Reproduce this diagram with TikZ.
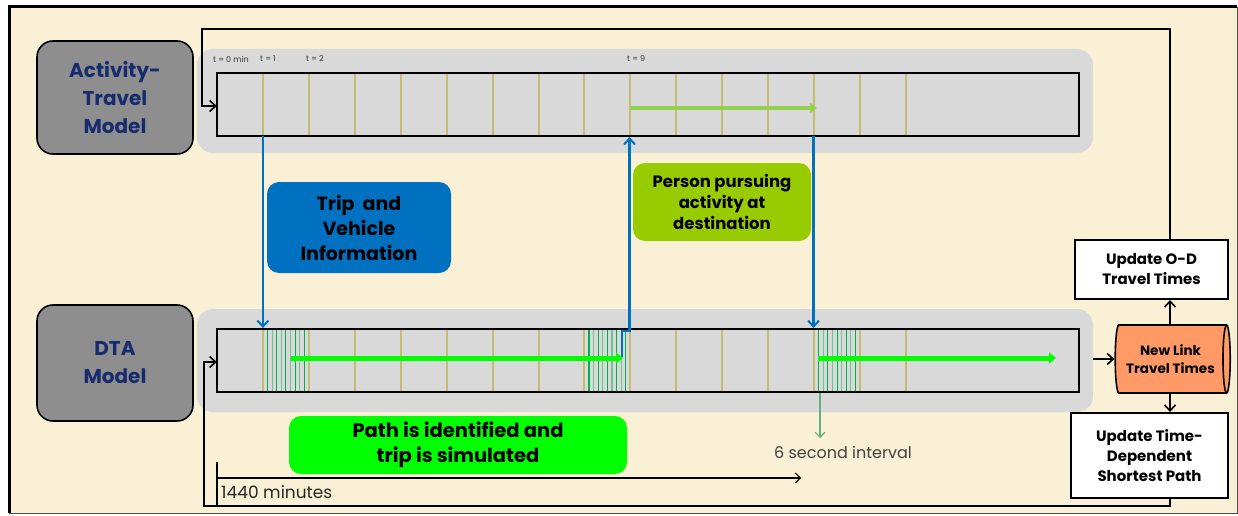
\documentclass[tikz,border=0pt]{standalone}
\usepackage{fontspec}
\setmainfont{Poppins}
\usetikzlibrary{shapes.geometric,arrows.meta,calc}

\definecolor{cream}{HTML}{F9F0D5}
\definecolor{bandgray}{HTML}{D9D9D9}
\definecolor{modelgray}{HTML}{8E8E8E}
\definecolor{navy}{HTML}{172C6E}
\definecolor{olive}{HTML}{C4BC72}
\definecolor{infoblue}{HTML}{0070C0}
\definecolor{actgreen}{HTML}{99CC00}
\definecolor{simgreen}{HTML}{00FF00}
\definecolor{lightgreen}{HTML}{92D050}
\definecolor{tickgreen}{HTML}{00B050}
\definecolor{tickgreenb}{HTML}{6CC58C}
\definecolor{linkorange}{HTML}{FF9966}
\definecolor{textgray}{HTML}{404040}

\tikzset{
  modelbox/.style={draw=black, line width=1.6, fill=modelgray, rounded corners=16,
    minimum width=156, minimum height=113, align=center, text=navy,
    font=\bfseries\fontsize{20}{28}\selectfont},
  bandbox/.style={fill=bandgray, rounded corners=16, minimum width=896, minimum height=104},
  barbox/.style={fill=bandgray, minimum width=862, minimum height=63, inner sep=0},
  notebox/.style={rounded corners=12, align=center, text=black, inner sep=0},
  updbox/.style={draw=black, line width=2, fill=white, align=center,
    font=\bfseries\fontsize{15}{20}\selectfont, inner sep=0},
  olivetick/.style={olive, line width=2},
  densetick/.style={line width=1.1},
  infoarrow/.style={infoblue, line width=2.2, -{Straight Barb[length=6,width=11,line width=2]}},
  looparrow/.style={black, line width=1.7, -{Straight Barb[length=6,width=11,line width=1.6]}},
  tlabel/.style={font=\fontsize{8}{9}\selectfont, text=black!80, inner sep=0, anchor=west},
}

\begin{document}
\begin{tikzpicture}[x=1pt,y=-1pt]
\useasboundingbox (0,0) rectangle (1238,516);
\fill[white] (0,0) rectangle (1238,516);
% frame
\fill[cream] (9,7) rectangle (1237,513);
\draw[line width=1, black!70] (1237,7) -- (1237,513) -- (9,513);
\draw[line width=3] (9,513) -- (9,7) -- (1237,7);

% model boxes
\node[modelbox] (atm) at (115,97.5) {Activity-\\Travel\\Model};
\node[modelbox, minimum height=116] (dta) at (115,363) {DTA\\Model};

% bands and bars
\node[bandbox] (topband) at (645,101) {};
\node[bandbox, minimum height=103] (dtaband) at (645,360.5) {};
\node[barbox] (topbar) at (648,104.5) {};
\node[barbox] (dtabar) at (648,360.5) {};

% one-minute ticks
\foreach \i in {1,...,15}{
  \draw[olivetick] ({217+45.93*\i},73) -- ({217+45.93*\i},136);
  \draw[olivetick] ({217+45.93*\i},329) -- ({217+45.93*\i},392);
}
% six-second ticks
\foreach \c in {262.9,584.4,814.1}{
  \foreach \k in {1,...,9}{
    \pgfmathsetmacro{\xx}{\c+4.6*\k}
    \ifodd\k
      \draw[densetick, tickgreen] (\xx,329) -- (\xx,393);
    \else
      \draw[densetick, tickgreenb] (\xx,329) -- (\xx,393);
    \fi
  }
}
\draw[line width=2] (topbar.north west) rectangle (topbar.south east);
\draw[line width=2] (dtabar.north west) rectangle (dtabar.south east);

% time labels
\node[tlabel] (t0) at (213,59) {t = 0 min};
\node[tlabel] (t1) at (260,59) {t = 1};
\node[tlabel] (t2) at (306,59) {t = 2};
\node[tlabel] (t9) at (627,59) {t = 9};

% activity duration and simulated trips
\coordinate (actS) at (630.4,108);
\coordinate (actE) at (817,108);
\draw[lightgreen, line width=4.5, -{Triangle[length=7,width=10]}] (actS) -- (actE);
\coordinate (sim1S) at (291,358);
\coordinate (sim1E) at (623,358);
\coordinate (sim2S) at (818,358);
\coordinate (sim2E) at (1056,358);
\draw[simgreen, line width=5, -{Triangle[length=7,width=11]}] (sim1S) -- (sim1E);
\draw[simgreen, line width=5, -{Triangle[length=7,width=11]}] (sim2S) -- (sim2E);

% information exchange between the models
\draw[infoarrow] (262.9,136) -- (262.9,328);
\draw[infoarrow] (622,357) -- (622,331) -- (629.5,331) -- (629.5,137);
\draw[infoarrow] (813.5,136) -- (813.5,328);

% labels
\node[notebox, fill=infoblue, minimum width=184, minimum height=91,
  font=\bfseries\fontsize{19}{25}\selectfont] (trip) at (359,227.5)
  {Trip~ and\\Vehicle\\Information};
\node[notebox, fill=actgreen, minimum width=178, minimum height=78,
  font=\bfseries\fontsize{16.5}{21}\selectfont] (pers) at (722,202)
  {Person pursuing\\activity at\\destination};
\node[notebox, fill=simgreen, minimum width=338, minimum height=58,
  font=\bfseries\fontsize{19.5}{25}\selectfont] (path) at (458,445)
  {Path is identified and\\trip is simulated};

% six-second interval
\coordinate (secS) at (820,393);
\coordinate (secE) at (820,438);
\draw[tickgreenb!90!black, line width=1.2, -{Straight Barb[length=5,width=10,line width=1.1]}] (secS) -- (secE);
\node[font=\fontsize{16}{18}\selectfont, text=textgray, inner sep=0] (sec) at (843,452) {6 second interval};

% horizon
\node[font=\fontsize{17}{19}\selectfont, text=textgray!60!black, inner sep=0, anchor=west] (horiz) at (221,492) {1440 minutes};
\coordinate (h0) at (217,478);
\coordinate (h1) at (801,478);
\draw[line width=1.1] (217,462) -- (217,505);
\draw[line width=1.1, -{Straight Barb[length=5,width=10,line width=1]}] (h0) -- (h1);

% network updates
\node[updbox, minimum width=153, minimum height=59] (od) at (1151.5,269.5) {Update O-D\\Travel Times};
\node[updbox, minimum width=157, minimum height=85] (sp) at (1149.5,455.5) {Update Time-\\Dependent\\Shortest Path};
\node[cylinder, draw=black, line width=1.6, fill=linkorange, shape border rotate=0,
  aspect=0.25, minimum width=68, minimum height=115, inner sep=0, align=center,
  font=\bfseries\fontsize{13.5}{18}\selectfont] (link) at (1170.5,359) {New Link\\Travel Times};

\draw[looparrow] (dtaband.east |- link.west) -- (link.west);
\draw[looparrow] (1170,325) -- (1170,0 |- od.south);
\draw[looparrow] (1170,393) -- (1170,0 |- sp.north);

% feedback loops
\draw[looparrow] (1170,0 |- od.north) -- (1170,29) -- (202,29) -- (202,106) -- (topbar.west |- 0,106);
\draw[looparrow] (1170,0 |- sp.south) -- (1170,506) -- (204,506) -- (204,362) -- (dtabar.west |- 0,362);
\end{tikzpicture}
\end{document}
